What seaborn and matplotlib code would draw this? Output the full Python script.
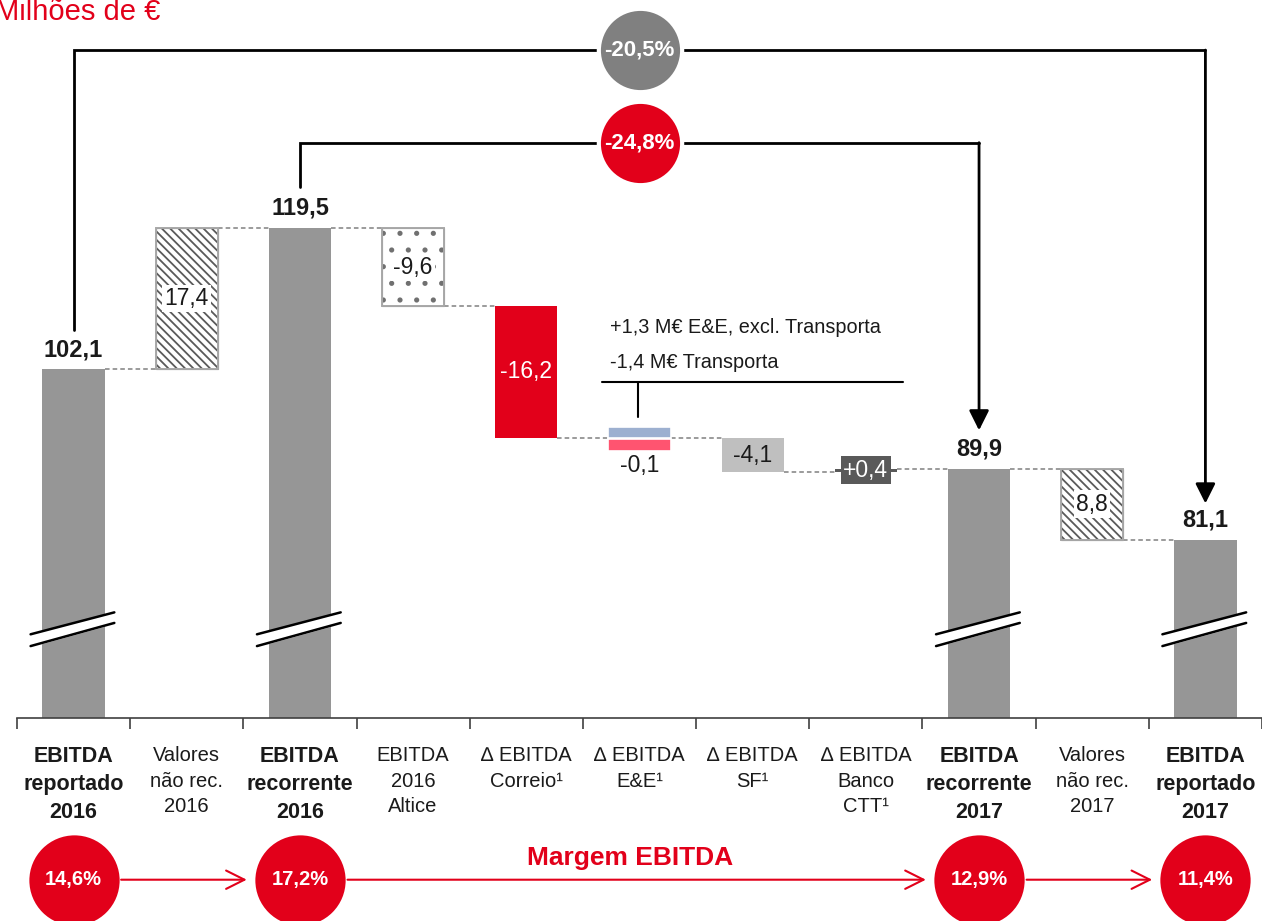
import matplotlib.pyplot as plt
import numpy as np
import pandas as pd
import seaborn as sns

# ---- data ----
categories = [
    "EBITDA\nreportado\n2016", "Valores\nnão rec.\n2016", "EBITDA\nrecorrente\n2016",
    "EBITDA\n2016\nAltice", "∆ EBITDA\nCorreio¹", "∆ EBITDA\nE&E¹", "∆ EBITDA\nSF¹",
    "∆ EBITDA\nBanco\nCTT¹", "EBITDA\nrecorrente\n2017", "Valores\nnão rec.\n2017",
    "EBITDA\nreportado\n2017",
]
kinds = ["total", "delta", "total", "delta", "delta", "delta", "delta", "delta",
         "total", "delta", "total"]
values = [102.1, 17.4, 119.5, -9.6, -16.2, -0.1, -4.1, 0.4, 89.9, -8.8, 81.1]
value_labels = ["102,1", "17,4", "119,5", "-9,6", "-16,2", "-0,1", "-4,1", "+0,4",
                "89,9", "8,8", "81,1"]
ee_parts = [1.3, -1.4]
ee_notes = ["+1,3 M€ E&E, excl. Transporta", "-1,4 M€ Transporta"]
margin_pos = [0, 2, 8, 10]
margin_labels = ["14,6%", "17,2%", "12,9%", "11,4%"]
change_labels = ["-20,5%", "-24,8%"]
change_pairs = [(0, 10), (2, 8)]

RED = "#E2001A"
GREY = "#969696"

sns.set_theme(style="white")
plt.rcParams["font.family"] = ["Liberation Sans", "DejaVu Sans"]
plt.rcParams["hatch.linewidth"] = 1.3

# running totals -> bar spans
lo, hi, levels = [], [], []
run = 0
for k, v in zip(kinds, values):
    if k == "total":
        lo.append(0)
        hi.append(v)
        run = v
    else:
        a, b = run, run + v
        lo.append(min(a, b))
        hi.append(max(a, b))
        run = b
    levels.append(run)
lo = np.array(lo)
hi = np.array(hi)
df = pd.DataFrame({"cat": categories, "span": hi - lo})

fig = plt.figure(figsize=(12.62, 9.21), dpi=100)
ax = fig.add_axes([17 / 1262, 203 / 921, 1245 / 1262, 718 / 921])

BW = 0.55
sns.barplot(data=df, x="cat", y="span", color=GREY, width=BW, saturation=1,
            linewidth=0, ax=ax)

styles = {
    1: dict(fc="white", ec="#5a5a5a", hatch="\\\\\\\\", lw=0.8),
    9: dict(fc="white", ec="#5a5a5a", hatch="\\\\\\\\", lw=0.8),
    3: dict(fc="white", ec="#707070", hatch=".", lw=0.8),
    4: dict(fc=RED, ec="none", hatch=None, lw=0),
    6: dict(fc="#BFBFBF", ec="none", hatch=None, lw=0),
    7: dict(fc="#595959", ec="none", hatch=None, lw=0),
}
for i, p in enumerate(ax.patches[:len(categories)]):
    p.set_y(lo[i])
    if i in styles:
        s = styles[i]
        p.set_facecolor(s["fc"])
        p.set_edgecolor(s["ec"])
        p.set_linewidth(s["lw"])
        if s["hatch"]:
            p.set_hatch(s["hatch"])
    if i == 5:
        p.set_visible(False)

# light grey outline on hatched bars
for i in (1, 3, 9):
    ax.bar(i, hi[i] - lo[i], bottom=lo[i], width=BW, fill=False,
           edgecolor="#A8A8A8", linewidth=1.4, zorder=3)

# E&E split into two components
ee_base = levels[4]
ax.bar(5, ee_parts[0], bottom=ee_base, width=BW, color="#9DB0D0",
       edgecolor="white", linewidth=1.2, zorder=3)
ax.bar(5, ee_parts[1], bottom=ee_base - 0.2, width=BW, color="#FF5470",
       edgecolor="white", linewidth=1.2, zorder=3)

# dashed connectors
for i in range(len(categories) - 1):
    ax.plot([i + BW / 2, i + 1 - BW / 2], [levels[i], levels[i]],
            color="#808080", lw=1.1, ls=(0, (3, 2)), zorder=1)

# value labels
for i, (k, lab) in enumerate(zip(kinds, value_labels)):
    mid = (lo[i] + hi[i]) / 2
    if k == "total":
        ax.annotate(lab, (i, hi[i]), xytext=(0, 6), textcoords="offset points",
                    ha="center", va="bottom", fontsize=17, fontweight="bold",
                    color="#1a1a1a", zorder=6)
    elif i in (1, 3, 9):
        ax.text(i, mid, lab, ha="center", va="center", fontsize=16.5, color="#1a1a1a",
                bbox=dict(boxstyle="square,pad=0.1", fc="white", ec="none"), zorder=6)
    elif i == 4:
        ax.text(i, mid, lab, ha="center", va="center", fontsize=16.5, color="white", zorder=6)
    elif i == 5:
        ax.text(i, ee_base - 3.4, lab, ha="center", va="center", fontsize=16.5,
                color="#1a1a1a", zorder=6)
    elif i == 6:
        ax.text(i, mid, lab, ha="center", va="center", fontsize=16.5, color="#1a1a1a", zorder=6)
    elif i == 7:
        ax.text(i, mid, lab, ha="center", va="center", fontsize=16.5, color="white",
                bbox=dict(boxstyle="square,pad=0.12", fc="#595959", ec="none"), zorder=6)

# E&E note
ax.text(4.74, 107.2, ee_notes[0], ha="left", va="center", fontsize=14.3, color="#1a1a1a")
ax.text(4.74, 103.0, ee_notes[1], ha="left", va="center", fontsize=14.3, color="#1a1a1a")
ax.plot([4.668, 7.327], [100.55, 100.55], color="black", lw=1.5)
ax.plot([4.986, 4.986], [100.55, 96.3], color="black", lw=1.5)

# axis breaks on total bars
for i in margin_pos:
    xs = np.array([i - 0.38, i + 0.36])
    y1 = np.array([69.5, 72.2])
    y2 = np.array([68.05, 70.9])
    ax.fill_between(xs, y2, y1, color="white", zorder=4)
    ax.plot(xs, y1, color="black", lw=1.8, zorder=5)
    ax.plot(xs, y2, color="black", lw=1.8, zorder=5)

# top brackets with change circles
bracket_y = [141.4, 130.0]
bracket_start = [107.0, 124.6]
bracket_tip = [85.6, 94.6]
bracket_col = ["#808080", RED]
for (a, b), yb, ys, yt, lab, col in zip(change_pairs, bracket_y, bracket_start,
                                         bracket_tip, change_labels, bracket_col):
    ax.plot([a, a, b], [ys, yb, yb], color="black", lw=2, solid_joinstyle="miter", zorder=2)
    ax.annotate("", xy=(b, yt), xytext=(b, yb),
                arrowprops=dict(arrowstyle="-|>,head_length=1.0,head_width=0.5",
                                color="black", lw=2, shrinkA=0, shrinkB=0), zorder=2)
    ax.scatter([5.0], [yb], s=60 ** 2, color=col, edgecolor="white", linewidth=3,
               zorder=7, clip_on=False)
    ax.text(5.0, yb, lab, ha="center", va="center", color="white", fontsize=16,
            fontweight="bold", zorder=8)

# margin circles below the axis
ym = 39.3
ax.scatter(margin_pos, [ym] * len(margin_pos), s=65 ** 2, color=RED, zorder=7,
           clip_on=False, linewidth=0)
for x, lab in zip(margin_pos, margin_labels):
    ax.text(x, ym, lab, ha="center", va="center", color="white", fontsize=14.5,
            fontweight="bold", zorder=8, clip_on=False)
for a, b in zip(margin_pos[:-1], margin_pos[1:]):
    ax.annotate("", xy=(b - 0.47, ym), xytext=(a + 0.42, ym),
                arrowprops=dict(arrowstyle="->,head_length=1.1,head_width=0.55",
                                color=RED, lw=1.5, shrinkA=0, shrinkB=0),
                annotation_clip=False)
ax.text(4.915, 42.0, "Margem EBITDA", ha="center", va="center", color=RED,
        fontsize=19, fontweight="bold", clip_on=False)

# axes styling
ax.set_xlim(-0.5, 10.5)
ax.set_ylim(59.2, 147.56)
ax.set_ylabel("")
ax.set_xlabel("")
ax.set_yticks([])
for s in ("left", "top", "right"):
    ax.spines[s].set_visible(False)
ax.spines["bottom"].set_color("#404040")
ax.spines["bottom"].set_linewidth(1.2)
ax.set_xticks(range(len(categories)), categories)
ax.set_xticks(np.arange(-0.5, 10.6, 1), minor=True)
ax.tick_params(axis="x", which="major", length=0, pad=20, labelsize=14.5,
               labelcolor="#1a1a1a")
ax.tick_params(axis="x", which="minor", bottom=True, length=8, width=1.2,
               color="#404040", direction="out")
for i, t in enumerate(ax.get_xticklabels()):
    t.set_linespacing(1.45)
    if kinds[i] == "total":
        t.set_fontweight("bold")
        t.set_fontsize(15.5)

fig.text(-0.004, (921 - 20) / 921, "Milhões de €", ha="left", va="baseline",
         color=RED, fontsize=21)

fig.savefig("out.png", dpi=100)
